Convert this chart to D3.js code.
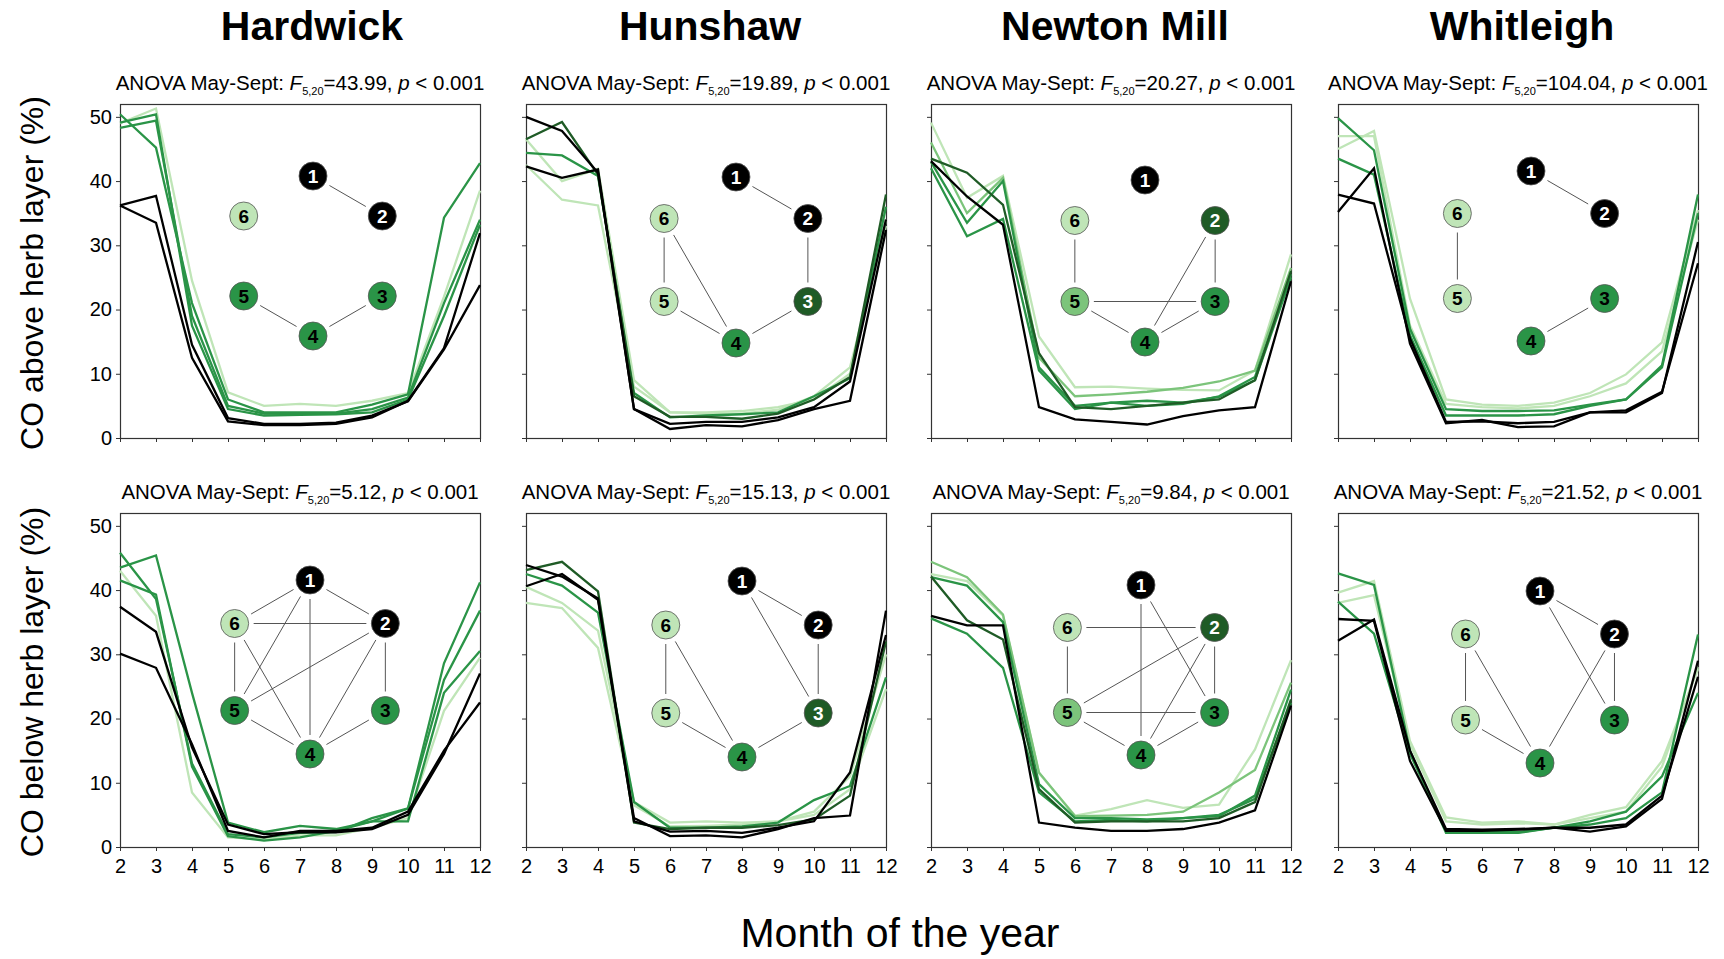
<!DOCTYPE html>
<html>
<head>
<meta charset="utf-8">
<script src="https://cdn.jsdelivr.net/npm/d3@7"></script>
<style>
    body { margin: 0; background: #fff; }
    #chart { width: 1724px; height: 959px; }
    text { font-family: "Liberation Sans", Arial, sans-serif; }
</style>
</head>
<body>
<div id="chart"></div>
<script>
// ---- data ----
var months = [2, 3, 4, 5, 6, 7, 8, 9, 10, 11, 12];
var yTicks = [0, 10, 20, 30, 40, 50];
var sites = ["Hardwick", "Hunshaw", "Newton Mill", "Whitleigh"];
var layers = ["CO above herb layer (%)", "CO below herb layer (%)"];
var anovaF = [["43.99", "19.89", "20.27", "104.04"],
              ["5.12", "15.13", "9.84", "21.52"]];
var xLabel = "Month of the year";

// six series (1..6) per panel, values for months 2..12
var hardwickAbove = [
    [36.2, 37.7, 14.5, 3.1, 2.2, 2.2, 2.4, 3.5, 5.7, 13.8, 23.8],
    [36.2, 33.5, 12.5, 2.6, 2.0, 2.0, 2.2, 3.2, 5.8, 14.0, 31.9],
    [50.4, 45.2, 21.0, 6.0, 4.0, 4.0, 4.0, 5.2, 6.8, 34.3, 42.8],
    [48.3, 49.4, 19.0, 5.0, 3.8, 3.8, 3.8, 4.5, 6.3, 21.0, 34.0],
    [49.1, 50.4, 17.5, 4.5, 3.5, 3.6, 3.7, 4.0, 6.0, 19.0, 33.2],
    [49.0, 51.3, 24.5, 7.1, 5.0, 5.3, 5.0, 5.8, 7.0, 22.0, 38.5]];
var hunshawAbove = [
    [50.0, 47.8, 41.3, 4.5, 1.4, 2.0, 1.8, 2.8, 4.5, 5.8, 32.4],
    [42.3, 40.5, 41.8, 4.5, 2.2, 2.5, 2.5, 3.2, 4.8, 8.8, 34.0],
    [46.5, 49.2, 41.0, 6.5, 3.3, 3.3, 3.0, 3.8, 6.0, 9.5, 37.9],
    [44.4, 44.0, 40.8, 7.0, 3.2, 3.5, 3.7, 4.0, 6.5, 9.3, 36.0],
    [46.5, 40.0, 41.9, 9.0, 4.0, 4.0, 4.2, 4.8, 6.0, 10.0, 34.0],
    [42.5, 37.1, 36.2, 8.0, 4.0, 3.8, 3.8, 4.4, 6.5, 11.0, 33.0]];
var newtonAbove = [
    [43.1, 37.6, 33.2, 4.8, 2.9, 2.5, 2.1, 3.4, 4.3, 4.8, 24.4],
    [43.5, 41.3, 36.3, 13.2, 4.8, 4.5, 5.0, 5.5, 6.0, 9.0, 26.0],
    [42.0, 31.4, 34.1, 10.5, 4.5, 5.5, 5.0, 5.3, 6.5, 9.5, 25.5],
    [43.0, 33.5, 40.0, 11.0, 5.0, 5.5, 5.8, 5.5, 6.4, 9.0, 25.0],
    [46.0, 35.0, 40.5, 12.5, 6.5, 6.8, 7.2, 7.8, 8.8, 10.5, 26.5],
    [49.1, 37.4, 40.8, 15.8, 7.9, 8.0, 7.7, 7.5, 7.4, 10.5, 28.6]];
var whitleighAbove = [
    [35.2, 42.0, 14.7, 2.3, 2.8, 1.7, 1.8, 4.0, 4.3, 7.2, 27.2],
    [37.9, 36.5, 15.5, 2.5, 2.6, 2.3, 2.5, 4.0, 4.0, 7.0, 30.5],
    [49.8, 44.8, 17.0, 4.5, 4.2, 4.2, 4.3, 5.2, 6.0, 11.3, 37.9],
    [43.5, 41.0, 16.0, 3.5, 3.5, 3.5, 3.7, 5.0, 6.0, 11.0, 35.0],
    [45.0, 47.8, 21.7, 6.0, 5.2, 5.0, 5.5, 7.0, 9.9, 14.9, 35.5],
    [47.0, 47.0, 17.5, 5.3, 4.8, 4.6, 5.0, 6.5, 8.5, 13.5, 34.0]];
var hardwickBelow = [
    [37.4, 33.5, 15.5, 3.5, 2.0, 2.3, 2.3, 2.8, 5.0, 14.5, 27.0],
    [30.1, 27.9, 16.0, 2.5, 1.5, 2.5, 2.5, 3.0, 5.5, 15.0, 22.5],
    [45.8, 38.6, 13.0, 2.0, 1.5, 2.2, 2.3, 4.5, 6.0, 26.0, 36.8],
    [43.5, 45.4, 24.0, 3.8, 2.3, 3.3, 2.8, 4.0, 6.0, 28.6, 41.2],
    [41.5, 39.3, 12.5, 1.7, 1.0, 1.5, 2.5, 4.0, 4.0, 24.0, 30.5],
    [43.0, 36.0, 8.5, 1.5, 1.2, 1.8, 1.8, 3.0, 4.5, 21.2, 29.5]];
var hunshawBelow = [
    [43.9, 42.1, 38.7, 4.5, 1.7, 1.8, 1.5, 2.8, 4.5, 4.9, 36.8],
    [40.6, 42.5, 38.5, 4.0, 2.4, 2.5, 2.2, 3.0, 4.0, 11.6, 33.0],
    [43.1, 44.4, 39.8, 3.8, 2.8, 3.0, 3.0, 3.4, 4.3, 8.0, 32.0],
    [42.5, 40.7, 36.5, 7.0, 3.0, 3.0, 3.2, 3.8, 7.3, 9.5, 26.4],
    [40.5, 38.0, 33.7, 7.0, 3.8, 4.0, 3.8, 4.0, 5.5, 11.0, 30.0],
    [38.0, 37.2, 31.0, 6.5, 3.2, 3.3, 3.5, 4.0, 5.0, 9.0, 24.6]];
var newtonBelow = [
    [36.0, 34.5, 34.5, 3.8, 3.0, 2.5, 2.5, 2.8, 3.8, 5.7, 22.0],
    [42.1, 35.3, 32.3, 9.0, 3.8, 4.0, 4.0, 4.0, 4.5, 7.0, 23.0],
    [35.6, 33.2, 27.9, 8.5, 4.0, 4.2, 4.0, 4.5, 5.0, 7.5, 22.5],
    [42.0, 40.7, 35.0, 9.8, 4.5, 4.5, 4.3, 4.5, 4.8, 8.0, 24.5],
    [44.4, 42.0, 36.2, 11.6, 4.8, 4.9, 5.0, 5.5, 8.5, 12.0, 25.6],
    [42.5, 41.4, 36.0, 11.5, 4.9, 5.9, 7.3, 6.1, 6.6, 15.2, 29.1]];
var whitleighBelow = [
    [35.5, 35.2, 13.4, 2.5, 2.5, 2.7, 3.0, 2.4, 3.2, 7.5, 29.0],
    [32.1, 35.4, 15.0, 2.8, 2.7, 2.8, 3.0, 3.0, 3.5, 8.0, 26.5],
    [42.6, 40.8, 15.0, 2.2, 2.2, 2.2, 3.0, 3.5, 4.5, 8.5, 33.1],
    [38.2, 33.2, 14.5, 2.5, 2.5, 2.3, 3.0, 4.0, 5.5, 11.0, 24.0],
    [39.6, 41.4, 16.5, 4.6, 3.8, 4.0, 3.5, 5.0, 6.2, 13.4, 27.7],
    [38.0, 39.2, 16.0, 4.0, 3.5, 3.7, 3.5, 4.5, 5.5, 12.5, 28.0]];

var panelSeries = [
    [hardwickAbove, hunshawAbove, newtonAbove, whitleighAbove],
    [hardwickBelow, hunshawBelow, newtonBelow, whitleighBelow]];

// group of series 1..6 in each panel (k black, d dark green, g green, m mid green, l light green)
var panelGroups = [
    [["k","k","g","g","g","l"], ["k","k","d","g","l","l"], ["k","d","g","g","m","l"], ["k","k","g","g","l","l"]],
    [["k","k","g","g","g","l"], ["k","k","d","g","l","l"], ["k","d","g","g","m","l"], ["k","k","g","g","l","l"]]];

// links between series in each panel
var panelEdges = [
    [[[1,2],[5,4],[4,3]],
     [[1,2],[2,3],[3,4],[4,5],[5,6],[6,4]],
     [[6,5],[5,3],[5,4],[4,3],[2,3],[2,4]],
     [[1,2],[6,5],[3,4]]],
    [[[1,6],[1,2],[1,5],[1,4],[6,2],[6,5],[6,4],[2,5],[2,3],[2,4],[5,4],[3,4]],
     [[1,2],[1,3],[2,3],[6,5],[6,4],[5,4],[3,4]],
     [[1,4],[1,3],[6,2],[6,5],[2,5],[2,4],[2,3],[5,3],[5,4],[3,4]],
     [[1,2],[1,3],[2,3],[2,4],[6,5],[6,4],[5,4]]]];

// ---- layout / styles ----
var color = { k: "#000000", d: "#1f5b26", g: "#2a9447", m: "#7cc47b", l: "#bfe5b7" };
var colX = [120, 526, 931, 1338],
    rowY = [104, 513],
    plotW = 360,
    plotH = 334;
// network inset: centre (relative to panel) and radius
var netPos = [
    [[193, 152, 80], [210, 156, 83], [214, 157, 81], [193, 152, 85]],
    [[190, 154, 87], [216, 156, 88], [210, 157, 85], [202, 164, 86]]];
var nodeR = 14;

var svg = d3.select("#chart").append("svg")
    .attr("width", 1724)
    .attr("height", 959);

var x = d3.scaleLinear().domain([2, 12]).range([0, plotW]);
var y = d3.scaleLinear().domain([0, 52]).range([plotH, 0]);

var line = d3.line()
    .x(function (d, i) { return x(months[i]); })
    .y(function (d) { return y(d); });

// Column titles
sites.forEach(function (s, c) {
    svg.append("text")
        .attr("x", colX[c] + plotW / 2 + (c === 0 ? 12 : 4))
        .attr("y", 40)
        .attr("text-anchor", "middle")
        .style("font-size", "41px")
        .style("font-weight", "bold")
        .text(s);
});

// Row labels
layers.forEach(function (l, r) {
    svg.append("text")
        .attr("transform", "translate(43," + (rowY[r] + plotH / 2 + 2) + ") rotate(-90)")
        .attr("text-anchor", "middle")
        .style("font-size", "32px")
        .text(l);
});

// X axis title
svg.append("text")
    .attr("x", 900)
    .attr("y", 947)
    .attr("text-anchor", "middle")
    .style("font-size", "41px")
    .text(xLabel);

for (var r = 0; r < 2; r++) {
    for (var c = 0; c < 4; c++) {
        drawPanel(r, c);
    }
}

function drawPanel(r, c) {
    var g = svg.append("g")
        .attr("transform", "translate(" + colX[c] + "," + rowY[r] + ")");

    // ANOVA caption
    var cap = g.append("text")
        .attr("x", plotW / 2)
        .attr("y", -14)
        .attr("text-anchor", "middle")
        .style("font-size", "20.5px");
    cap.append("tspan").text("ANOVA May-Sept: ");
    cap.append("tspan").style("font-style", "italic").text("F");
    cap.append("tspan").style("font-size", "11px").attr("dy", 5).text("5,20");
    cap.append("tspan").attr("dy", -5).text("=" + anovaF[r][c] + ", ");
    cap.append("tspan").style("font-style", "italic").text("p");
    cap.append("tspan").text(" < 0.001");

    // Axes
    var yAxis = d3.axisLeft(y).tickValues(yTicks).tickSize(4).tickPadding(4);
    if (c > 0) yAxis.tickFormat("");
    var ya = g.append("g").call(yAxis);

    var xAxis = d3.axisBottom(x).tickValues(months).tickSize(4).tickPadding(8);
    if (r === 0) xAxis.tickFormat("");
    var xa = g.append("g")
        .attr("transform", "translate(0," + plotH + ")")
        .call(xAxis);

    [ya, xa].forEach(function (a) {
        a.select(".domain").remove();
        a.attr("font-family", null).attr("font-size", null);
        a.selectAll("line").attr("stroke", "#333");
        a.selectAll("text").style("font-size", "20px").attr("fill", "#000");
    });

    // Frame
    g.append("rect")
        .attr("x", 0.5).attr("y", 0.5)
        .attr("width", plotW).attr("height", plotH)
        .attr("fill", "none")
        .attr("stroke", "#333")
        .attr("stroke-width", 1.2);

    // Lines (series 6 first so black on top)
    var series = panelSeries[r][c];
    var groups = panelGroups[r][c];
    for (var i = series.length - 1; i >= 0; i--) {
        g.append("path")
            .datum(series[i])
            .attr("fill", "none")
            .attr("stroke", color[groups[i]])
            .attr("stroke-width", 2.3)
            .attr("stroke-linejoin", "miter")
            .attr("d", line);
    }

    // Network inset
    var np = netPos[r][c];
    var nx = d3.scaleLinear().domain([-1, 1]).range([np[0] - np[2], np[0] + np[2]]);
    var ny = d3.scaleLinear().domain([-1, 1]).range([np[1] - np[2], np[1] + np[2]]);
    var nodes = d3.range(6).map(function (i) {
        var a = (-90 + 60 * i) * Math.PI / 180;
        return { id: i + 1, x: nx(Math.cos(a)), y: ny(Math.sin(a)), grp: groups[i] };
    });

    var gap = nodeR + 5;
    panelEdges[r][c].forEach(function (e) {
        var a = nodes[e[0] - 1], b = nodes[e[1] - 1];
        var dx = b.x - a.x, dy = b.y - a.y, len = Math.sqrt(dx * dx + dy * dy);
        var ux = dx / len, uy = dy / len;
        g.append("line")
            .attr("x1", a.x + ux * gap).attr("y1", a.y + uy * gap)
            .attr("x2", b.x - ux * gap).attr("y2", b.y - uy * gap)
            .attr("stroke", "#555")
            .attr("stroke-width", 1);
    });

    var ng = g.selectAll(".node")
        .data(nodes)
        .enter().append("g")
        .attr("transform", function (d) { return "translate(" + d.x + "," + d.y + ")"; });
    ng.append("circle")
        .attr("r", nodeR)
        .attr("fill", function (d) { return color[d.grp]; })
        .attr("stroke", "#555")
        .attr("stroke-width", 0.8);
    ng.append("text")
        .attr("text-anchor", "middle")
        .attr("dy", "0.36em")
        .style("font-size", "19px")
        .style("font-weight", "bold")
        .attr("fill", function (d) { return (d.grp === "k" || d.grp === "d") ? "#fff" : "#000"; })
        .text(function (d) { return d.id; });
}
</script>
</body>
</html>
